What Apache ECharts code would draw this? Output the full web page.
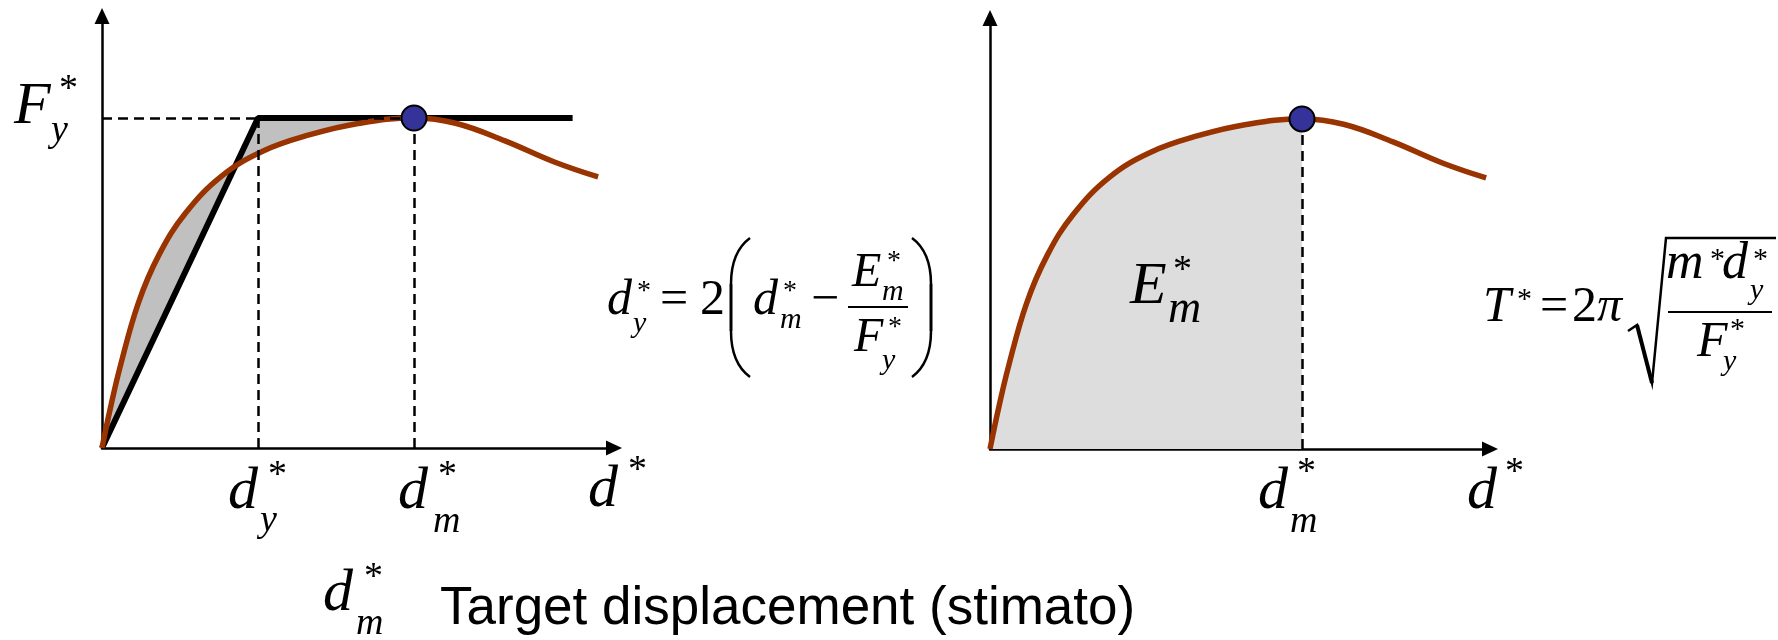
<!DOCTYPE html>
<html>
<head>
<meta charset="utf-8">
<script src="https://cdn.jsdelivr.net/npm/echarts@6/dist/echarts.min.js"></script>
<style>
  html, body { margin: 0; padding: 0; background: #fff; }
  #chart { width: 1778px; height: 640px; }
</style>
</head>
<body>
<div id="chart"></div>
<script>
// Capacity curve of the equivalent SDOF system: displacement d* vs force F*
const curveD = [0, 1.6, 3.5, 7, 11, 16, 23, 31, 40, 49, 60, 68, 77.5, 87, 95.4];
const curveF = [0, 9, 18.5, 33, 44, 53.3, 61.8, 67.5, 71.2, 73.7, 75, 73.8, 69.8, 65, 61.6];

// Equivalent bilinear (elastic - perfectly plastic) idealisation
const dY = 30;          // yield displacement d*_y
const dM = 60;          // target displacement d*_m
const fY = 75;          // yield force F*_y
const plateauEnd = 90.5;
const bilinearD = [0, dY, plateauEnd];
const bilinearF = [0, fY, fY];

const SERIF = '"Liberation Serif","Times New Roman",serif';
const SANS = '"Liberation Sans",Arial,sans-serif';
const CURVE_COLOR = '#993300';

const pairs = (xs, ys) => xs.map((x, i) => [x, ys[i]]);
const curveData = pairs(curveD, curveF);
const bilinearData = pairs(bilinearD, bilinearF);

// curve points up to the target displacement
const curveToTarget = curveData.filter(p => p[0] <= dM);

function arrowAxis(max, gridIndex) {
  return {
    type: 'value', gridIndex, min: 0, max,
    axisLine: {
      show: true, onZero: false,
      symbol: ['none', 'triangle'], symbolSize: [15, 16],
      lineStyle: { color: '#000', width: 2.5 }
    },
    axisTick: { show: false }, axisLabel: { show: false }, splitLine: { show: false }
  };
}

const dashed = { type: [10, 6], color: '#000', width: 2.5 };

// text with its left edge at x and its baseline at base
function txt(str, x, base, size, italic, family) {
  family = family || SERIF;
  const k = family === SANS ? 0.3465 : 0.3375;
  return {
    type: 'text', x: x, y: base - k * size, silent: true, z: 50,
    style: {
      text: str, font: (italic ? 'italic ' : '') + size + 'px ' + family, fill: '#000',
      align: 'left', verticalAlign: 'middle', textAlign: 'left', textVerticalAlign: 'middle'
    }
  };
}
// asterisk whose glyph top sits at y = top
function star(x, top, size) { return txt('*', x, top + 0.676 * size, size, false); }

function seg(x1, y1, x2, y2, w) {
  return { type: 'line', silent: true, z: 50, shape: { x1, y1, x2, y2 }, style: { stroke: '#000', lineWidth: w } };
}
function quad(x1, y1, cx, cy, x2, y2, w) {
  return { type: 'bezierCurve', silent: true, z: 50, shape: { x1, y1, cpx1: cx, cpy1: cy, x2, y2 },
           style: { stroke: '#000', lineWidth: w, fill: null } };
}
// tall bracket: ends at xEnd, straight middle part at xMid
function paren(xEnd, xMid, top, bottom) {
  const r = 46;
  return [
    quad(xEnd, top, xMid, top + 14, xMid, top + r, 2.5),
    seg(xMid, top + r, xMid, bottom - r, 3),
    quad(xMid, bottom - r, xMid, bottom - 14, xEnd, bottom, 2.5)
  ];
}

const labels = [
  // F*_y on the force axis
  txt('F', 14, 127, 60, true), txt('y', 51, 144, 38, true), star(59, 77, 38),
  // displacement axis, left diagram
  txt('d', 228, 512, 60, true), txt('y', 260, 534, 38, true), star(268, 463, 38),
  txt('d', 398, 512, 60, true), txt('m', 433, 535, 38, true), star(438, 463, 38),
  txt('d', 588, 510, 60, true), star(628, 458, 38),
  // displacement axis, right diagram
  txt('d', 1258, 512, 60, true), txt('m', 1290, 535, 38, true), star(1297, 460, 38),
  txt('d', 1467, 512, 60, true), star(1505, 460, 38),
  // energy under the curve
  txt('E', 1130, 307, 60, true), txt('m', 1168, 325, 46, true), star(1173, 258, 38),
  // d*_y = 2 ( d*_m - E*_m / F*_y )
  txt('d', 607, 318, 50, true), txt('y', 633, 334, 30, true), star(637, 282, 28),
  txt('=', 660, 318, 50, false), txt('2', 700, 318, 50, false),
  ...paren(750, 731, 238, 377),
  txt('d', 753, 318, 50, true), txt('m', 780, 330, 30, true), star(783, 282, 28),
  txt('\u2212', 811, 318, 50, false),
  txt('E', 852, 290, 48, true), txt('m', 882, 302, 30, true), star(887, 252, 28),
  seg(848, 307, 908, 307, 2),
  txt('F', 854, 355, 48, true), txt('y', 882, 371, 30, true), star(888, 318, 28),
  ...paren(912, 931, 238, 377),
  // T* = 2 pi sqrt( m* d*_y / F*_y )
  txt('T', 1483, 325, 50, true), star(1517, 290, 30),
  txt('=', 1540, 325, 50, false), txt('2', 1572, 325, 50, false), txt('\u03c0', 1597, 325, 50, true),
  { type: 'polyline', silent: true, z: 50,
    shape: { points: [[1628, 331], [1637, 325], [1652, 383], [1666, 238], [1776, 238]] },
    style: { stroke: '#000', lineWidth: 2.5, fill: null } },
  seg(1637, 325, 1652, 383, 4),
  txt('m', 1666, 282, 52, true), star(1710, 250, 30),
  txt('d', 1722, 282, 52, true), txt('y', 1750, 301, 30, true), star(1753, 250, 30),
  seg(1668, 312, 1772, 312, 2),
  txt('F', 1697, 360, 50, true), txt('y', 1723, 372, 30, true), star(1730, 320, 30),
  // footnote
  txt('d', 323, 614, 60, true), txt('m', 356, 637, 38, true), star(364, 565, 38),
  txt('Target displacement (stimato)', 440, 628, 53, false, SANS)
];

const chart = echarts.init(document.getElementById('chart'), null, { renderer: 'canvas' });

chart.setOption({
  animation: false,
  backgroundColor: '#fff',
  grid: [
    { left: 102, top: 16, width: 512, height: 432 },
    { left: 990, top: 18, width: 500, height: 431 }
  ],
  xAxis: [arrowAxis(98.46, 0), arrowAxis(96.15, 1)],
  yAxis: [arrowAxis(98.18, 0), arrowAxis(97.95, 1)],
  series: [
    // area between the capacity curve and the bilinear idealisation
    {
      type: 'custom', xAxisIndex: 0, yAxisIndex: 0, z: 1, silent: true,
      data: [[0, 0]],
      renderItem: function (params, api) {
        const pts = curveToTarget.map(p => api.coord(p));
        pts.push(api.coord([dY, fY]));
        pts.push(api.coord([0, 0]));
        return { type: 'polygon', shape: { points: pts }, style: { fill: '#c0c0c0' } };
      },
      markLine: {
        silent: true, symbol: ['none', 'none'], label: { show: false }, lineStyle: dashed,
        data: [
          [{ coord: [0, fY] }, { coord: [dM, fY] }],
          [{ coord: [dY, fY] }, { coord: [dY, 0] }],
          [{ coord: [dM, fY] }, { coord: [dM, 0] }]
        ]
      }
    },
    {
      type: 'line', xAxisIndex: 0, yAxisIndex: 0, z: 3, silent: true,
      data: bilinearData, symbol: 'none',
      lineStyle: { color: '#000', width: 6 }
    },
    {
      type: 'line', xAxisIndex: 0, yAxisIndex: 0, z: 4, silent: true,
      data: curveData, symbol: 'none', smooth: 0.4,
      lineStyle: { color: CURVE_COLOR, width: 5.5 }
    },
    {
      type: 'scatter', xAxisIndex: 0, yAxisIndex: 0, z: 5, silent: true,
      data: [[dM, fY]], symbol: 'circle', symbolSize: 25,
      itemStyle: { color: '#333399', borderColor: '#000', borderWidth: 2, opacity: 1 }
    },
    // energy E*_m: area under the curve up to the target displacement
    {
      type: 'custom', xAxisIndex: 1, yAxisIndex: 1, z: 1, silent: true,
      data: [[0, 0]],
      renderItem: function (params, api) {
        const pts = curveToTarget.map(p => api.coord(p));
        pts.push(api.coord([dM, 0]));
        pts.push(api.coord([0, 0]));
        return { type: 'polygon', shape: { points: pts }, style: { fill: '#dddddd' } };
      },
      markLine: {
        silent: true, symbol: ['none', 'none'], label: { show: false }, lineStyle: dashed,
        data: [[{ coord: [dM, fY] }, { coord: [dM, 0] }]]
      }
    },
    {
      type: 'line', xAxisIndex: 1, yAxisIndex: 1, z: 4, silent: true,
      data: curveData, symbol: 'none', smooth: 0.4,
      lineStyle: { color: CURVE_COLOR, width: 5.5 }
    },
    {
      type: 'scatter', xAxisIndex: 1, yAxisIndex: 1, z: 5, silent: true,
      data: [[dM, fY]], symbol: 'circle', symbolSize: 25,
      itemStyle: { color: '#333399', borderColor: '#000', borderWidth: 2, opacity: 1 }
    }
  ],
  graphic: { elements: labels }
});
</script>
</body>
</html>
